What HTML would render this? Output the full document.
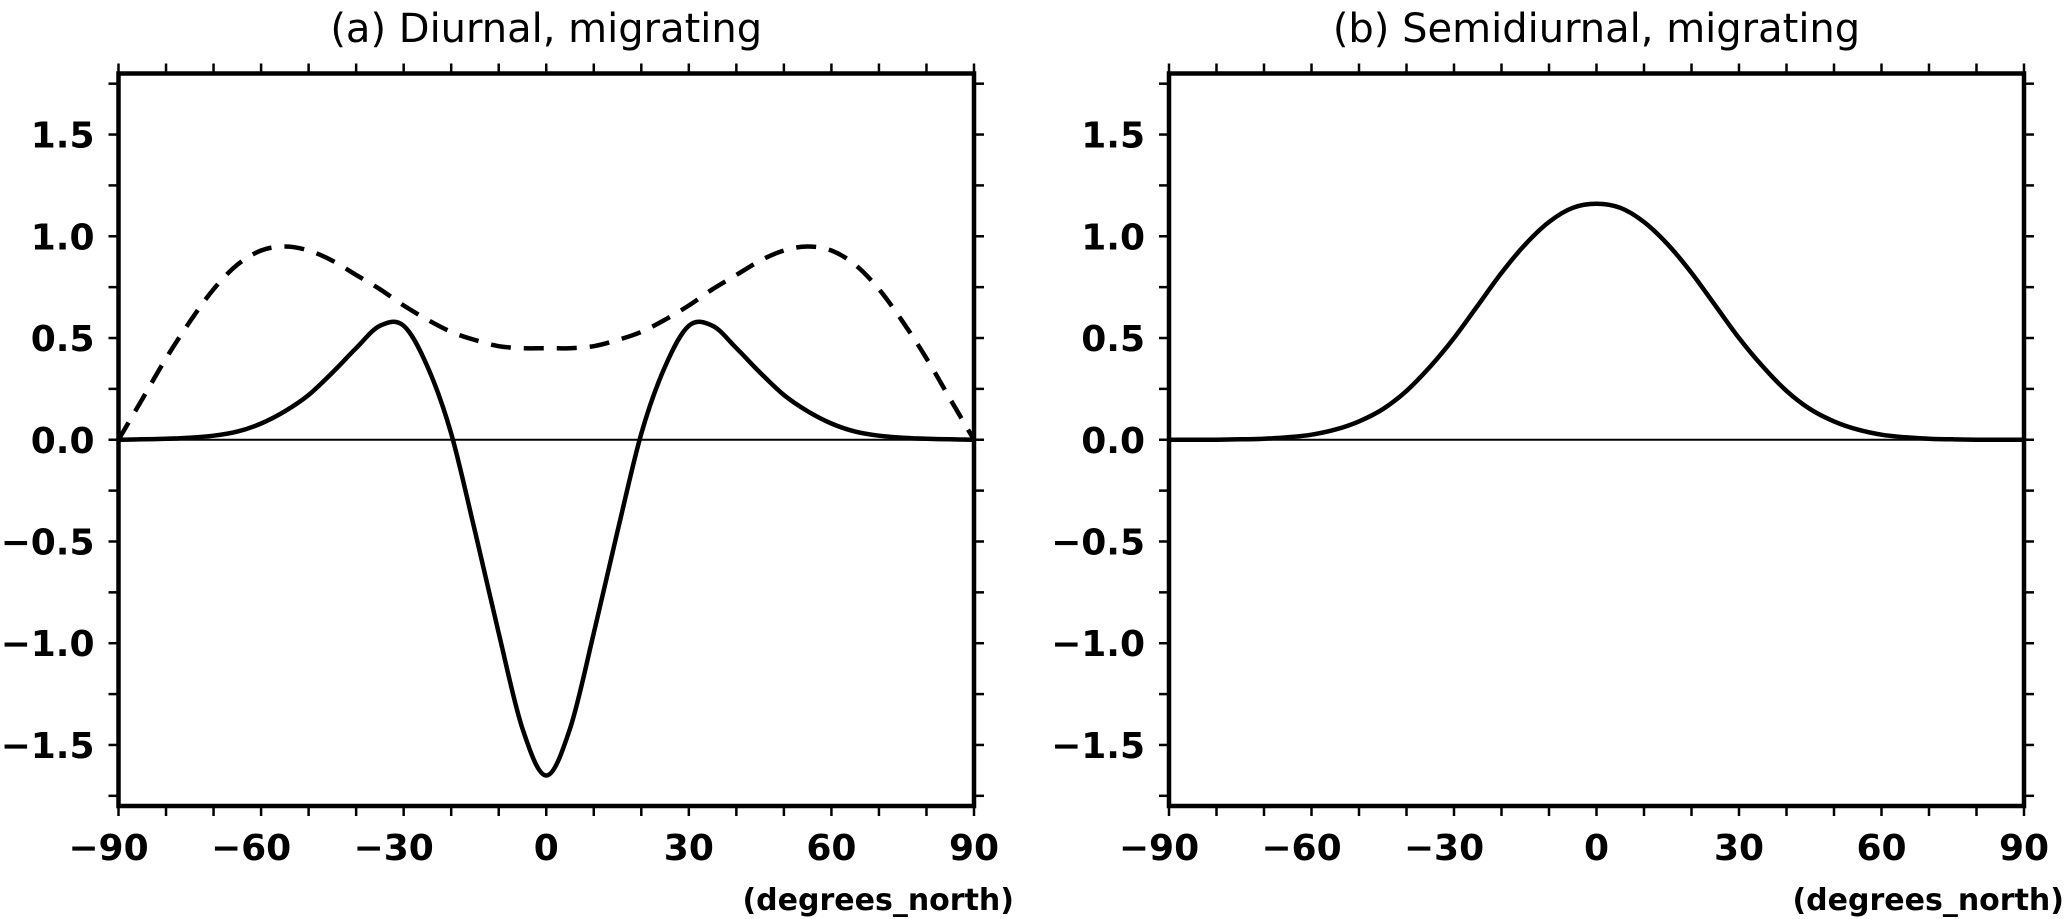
<!DOCTYPE html>
<html><head><meta charset="utf-8"><style>
html,body{margin:0;padding:0;background:#fff;}
svg{display:block;font-family:"DejaVu Sans","Liberation Sans",sans-serif;}
</style></head><body>
<svg id="chart" width="2067" height="919" viewBox="0 0 2067 919" xmlns="http://www.w3.org/2000/svg"></svg>
<script>
const lats = [-90,-85,-80,-75,-70,-65,-60,-55,-50,-45,-40,-35,-30,-25,-20,-15,-10,-5,0,5,10,15,20,25,30,35,40,45,50,55,60,65,70,75,80,85,90];
const diurnalSolid = [0,0.002,0.005,0.01,0.02,0.04,0.08,0.14,0.22,0.33,0.45,0.56,0.56,0.36,0.03,-0.45,-0.95,-1.42,-1.65,-1.42,-0.95,-0.45,0.03,0.36,0.56,0.56,0.45,0.33,0.22,0.14,0.08,0.04,0.02,0.01,0.005,0.002,0];
const diurnalDashed = [0,0.2,0.4,0.58,0.74,0.86,0.93,0.95,0.93,0.88,0.81,0.74,0.66,0.59,0.53,0.49,0.46,0.45,0.45,0.45,0.46,0.49,0.53,0.59,0.66,0.74,0.81,0.88,0.93,0.95,0.93,0.86,0.74,0.58,0.4,0.2,0];
const semidiurnal = [0,0,0,0.002,0.005,0.012,0.025,0.05,0.09,0.15,0.24,0.36,0.5,0.66,0.82,0.96,1.07,1.14,1.16,1.14,1.07,0.96,0.82,0.66,0.5,0.36,0.24,0.15,0.09,0.05,0.025,0.012,0.005,0.002,0,0,0];
const yTickLabels = ["-1.5","-1.0","-0.5","0.0","0.5","1.0","1.5"];
const xTickLabels = ["-90","-60","-30","0","30","60","90"];

const NS="http://www.w3.org/2000/svg";
const svg=document.getElementById('chart');
function mk(tag,attrs,parent){const e=document.createElementNS(NS,tag);for(const k in attrs)e.setAttribute(k,attrs[k]);(parent||svg).appendChild(e);return e;}
const top0=73.5, bot0=806;
function yScale(v){return top0+(1.8-v)/3.6*(bot0-top0);}
function pathFrom(xs,ys){
  let d="M"+xs[0].toFixed(1)+","+ys[0].toFixed(1);
  for(let i=0;i<xs.length-1;i++){
    const x0=xs[Math.max(i-1,0)],y0=ys[Math.max(i-1,0)],x1=xs[i],y1=ys[i],x2=xs[i+1],y2=ys[i+1],x3=xs[Math.min(i+2,xs.length-1)],y3=ys[Math.min(i+2,xs.length-1)];
    d+=" C"+(x1+(x2-x0)/6).toFixed(1)+","+(y1+(y2-y0)/6).toFixed(1)+" "+(x2-(x3-x1)/6).toFixed(1)+","+(y2-(y3-y1)/6).toFixed(1)+" "+x2.toFixed(1)+","+y2.toFixed(1);
  }
  return d;
}
function panel(id,left,right,title,series){
  const g=mk('g',{});
  
  
  const xScale=v=>left+(v+90)/180*(right-left);
  const z=mk('line',{x1:left,x2:right,y1:yScale(0),y2:yScale(0),stroke:'#000','stroke-width':2},g);
  
  
  series.forEach(s=>{
    const p=mk('path',{d:pathFrom(lats.map(xScale),s.vals.map(yScale)),fill:'none',stroke:'#000','stroke-width':4.5,'stroke-dasharray':s.dash||'none','stroke-linejoin':'round'},g);
    
    
  });
  for(let v=-90;v<=90;v+=10){
    const x=xScale(v);
    mk('line',{x1:x,x2:x,y1:top0,y2:top0-10,stroke:'#000','stroke-width':2.5},g);
    mk('line',{x1:x,x2:x,y1:bot0,y2:bot0+10,stroke:'#000','stroke-width':2.5},g);
  }
  for(let i=-7;i<=7;i++){
    const y=yScale(i*0.25);
    mk('line',{x1:left,x2:left-10,y1:y,y2:y,stroke:'#000','stroke-width':2.5},g);
    mk('line',{x1:right,x2:right+10,y1:y,y2:y,stroke:'#000','stroke-width':2.5},g);
  }
  const f=mk('rect',{x:left,y:top0,width:right-left,height:bot0-top0,fill:'none',stroke:'#000','stroke-width':4.5},g);
  
  
  yTickLabels.forEach(l=>{
    const t=mk('text',{x:left-24,y:yScale(parseFloat(l))+13,'text-anchor':'end','font-size':36,'font-weight':'bold'},g);
    t.textContent=l.replace('-','\u2212');
    
    
  });
  xTickLabels.forEach(l=>{
    const t=mk('text',{x:xScale(parseFloat(l))-(l[0]=='-'?10:0),y:860,'text-anchor':'middle','font-size':36,'font-weight':'bold'},g);
    t.textContent=l.replace('-','\u2212');
    
    
  });
  const xt=mk('text',{x:right+40,y:910,'text-anchor':'end','font-size':30,'font-weight':'bold'},g);
  xt.textContent='(degrees_north)';
  
  
  const tt=mk('text',{x:(left+right)/2,y:42,'text-anchor':'middle','font-size':40},g);
  tt.textContent=title;
  
  
}
panel('a',118.5,974,'(a) Diurnal, migrating',[{vals:diurnalSolid,name:'diurnal-solid-line'},{vals:diurnalDashed,name:'diurnal-dashed-line',dash:'20 13'}]);
panel('b',1169,2024,'(b) Semidiurnal, migrating',[{vals:semidiurnal,name:'semidiurnal-line'}]);
</script>
</body></html>
